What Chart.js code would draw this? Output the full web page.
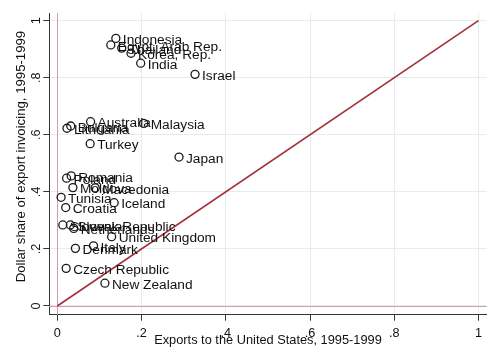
<!DOCTYPE html>
<html>
<head>
<meta charset="utf-8">
<script src="https://cdn.jsdelivr.net/npm/chart.js@4.4.1/dist/chart.umd.min.js"></script>
<style>
  html, body { margin: 0; padding: 0; background: #fff; }
  #wrap { width: 500px; height: 364px; }
</style>
</head>
<body>
<div id="wrap"><canvas id="myChart" width="500" height="364"></canvas></div>
<script>
// Datos
const paises = ['Indonesia', 'Egypt, Arab Rep.', 'Thailand', 'Korea, Rep.', 'India', 'Israel',
  'Australia', 'Malaysia', 'Bulgaria', 'Lithuania', 'Turkey', 'Japan',
  'Romania', 'Poland', 'Moldova', 'Macedonia', 'Tunisia', 'Iceland', 'Croatia',
  'Slovenia', 'Slovak Republic', 'Netherlands', 'United Kingdom', 'Italy', 'Denmark',
  'Czech Republic', 'New Zealand'];
const exportsUS = [0.139, 0.127, 0.153, 0.175, 0.198, 0.327,
  0.079, 0.205, 0.032, 0.023, 0.078, 0.289,
  0.033, 0.022, 0.037, 0.090, 0.009, 0.135, 0.020,
  0.013, 0.031, 0.039, 0.129, 0.086, 0.043,
  0.021, 0.113];
const dollarShare = [0.938, 0.915, 0.904, 0.886, 0.851, 0.812,
  0.646, 0.640, 0.631, 0.623, 0.569, 0.522,
  0.456, 0.448, 0.415, 0.414, 0.381, 0.362, 0.345,
  0.284, 0.284, 0.272, 0.243, 0.211, 0.202,
  0.132, 0.080];
const lineaX = [0, 1]; // recta de 45 grados
const lineaY = [0, 1];
const tickValores = [0, 0.2, 0.4, 0.6, 0.8, 1];
const tickEtiquetas = ['0', '.2', '.4', '.6', '.8', '1'];

const fuente = 'Liberation Sans, Arial, sans-serif';
const ctx = document.getElementById('myChart');

// Líneas rosas en x = 0 e y = 0, debajo de los datos
const cerosPlugin = {
  id: 'ceros',
  beforeDatasetsDraw(chart) {
    const { ctx: c, chartArea: a, scales } = chart;
    const x0 = Math.round(scales.x.getPixelForValue(0)) + 0.5;
    const y0 = Math.round(scales.y.getPixelForValue(0)) + 0.5;
    c.save();
    c.strokeStyle = '#dc98ac';
    c.lineWidth = 1;
    c.beginPath();
    c.moveTo(x0, a.top); c.lineTo(x0, a.bottom);
    c.moveTo(a.left, y0); c.lineTo(a.right, y0);
    c.stroke();
    c.restore();
  }
};

// Plugin para escribir el nombre del país a la derecha de cada punto
const etiquetasPlugin = {
  id: 'etiquetas',
  afterDatasetsDraw(chart) {
    const meta = chart.getDatasetMeta(1);
    const c = chart.ctx;
    c.save();
    c.font = '13.7px ' + fuente;
    c.fillStyle = '#111';
    c.textAlign = 'left';
    c.textBaseline = 'middle';
    meta.data.forEach((pt, i) => {
      c.fillText(paises[i], pt.x + 7, pt.y + 2);
    });
    c.restore();
  }
};

new Chart(ctx, {
  type: 'scatter',
  data: {
    datasets: [{
      type: 'line',
      data: lineaX.map((x, i) => ({ x: x, y: lineaY[i] })),
      borderColor: '#a3303c',
      borderWidth: 1.6,
      pointRadius: 0,
      fill: false
    }, {
      data: exportsUS.map((x, i) => ({ x: x, y: dollarShare[i] })),
      pointStyle: 'circle',
      pointRadius: 4,
      pointBorderWidth: 1.3,
      pointBorderColor: '#1a1a1a',
      pointBackgroundColor: 'rgba(0,0,0,0)'
    }]
  },
  options: {
    responsive: false,
    animation: false,
    events: [],
    layout: { padding: { top: 13, right: 13.3, left: 0, bottom: 0 } },
    plugins: { legend: { display: false }, tooltip: { enabled: false } },
    scales: {
      x: {
        type: 'linear',
        min: -0.019,
        max: 1.0195,
        afterBuildTicks: (s) => { s.ticks = tickValores.map(v => ({ value: v })); },
        afterFit: (s) => { s.height = 49.3; },
        grid: { color: '#e3edef', tickColor: '#333', tickLength: 6, lineWidth: 1 },
        border: { display: true, color: '#333', width: 1 },
        ticks: {
          font: { family: fuente, size: 12.7 },
          color: '#111',
          padding: 5,
          maxRotation: 0,
          callback: (v, i) => tickEtiquetas[i]
        },
        title: {
          display: true,
          text: 'Exports to the United States, 1995-1999',
          font: { family: fuente, size: 12.8 },
          color: '#111',
          padding: { top: 0, bottom: 15.5 }
        }
      },
      y: {
        type: 'linear',
        min: -0.0305,
        max: 1.027,
        afterBuildTicks: (s) => { s.ticks = tickValores.map(v => ({ value: v })); },
        afterFit: (s) => { s.width = 49.3; },
        grid: { color: '#e3edef', tickColor: '#333', tickLength: 6, lineWidth: 1 },
        border: { display: true, color: '#333', width: 1 },
        ticks: {
          font: { family: fuente, size: 12.7 },
          color: '#111',
          padding: 2,
          minRotation: 90,
          maxRotation: 90,
          crossAlign: 'center',
          callback: (v, i) => tickEtiquetas[i]
        },
        title: {
          display: true,
          text: '    Dollar share of export invoicing, 1995-1999',
          font: { family: fuente, size: 13.2 },
          color: '#111',
          padding: { top: 13, bottom: 0 }
        }
      }
    }
  },
  plugins: [cerosPlugin, etiquetasPlugin]
});
</script>
</body>
</html>
